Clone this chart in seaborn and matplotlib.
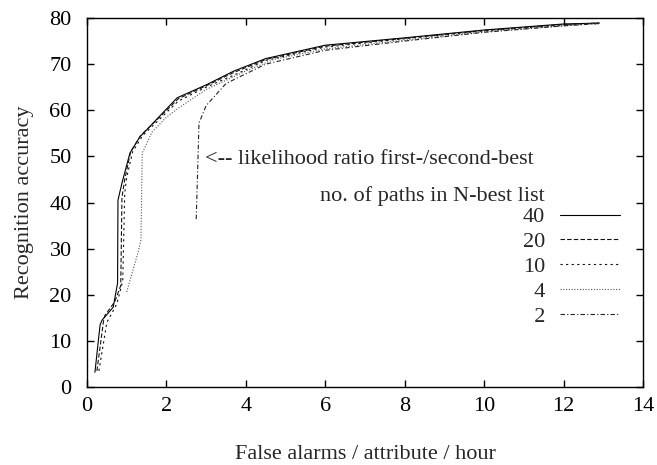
import numpy as np
import pandas as pd
import matplotlib
matplotlib.use("Agg")
import matplotlib.pyplot as plt
import seaborn as sns

# N-best list sizes and their curves (false alarms / attribute / hour vs accuracy)
n_paths = ["40", "20", "10", "4", "2"]

fa_40 = [0.2, 0.33, 0.38, 0.66, 0.77, 0.78, 0.88, 1.08, 1.33, 2.27, 3.0, 3.7, 4.5, 6.0, 8.0, 10.0, 12.0, 12.9]
acc_40 = [3.2, 13.5, 14.5, 17.3, 22.5, 40.5, 44.2, 50.7, 54.2, 62.7, 65.5, 68.5, 71.2, 74.1, 75.7, 77.4, 78.7, 78.9]

fa_20 = [0.25, 0.42, 0.45, 0.7, 0.85, 0.88, 0.95, 1.1, 1.35, 2.3, 3.0, 3.7, 4.5, 6.0, 8.0, 10.0, 12.0, 12.9]
acc_20 = [3.5, 14.5, 15.5, 18.5, 22.0, 41.0, 45.0, 51.0, 54.5, 62.5, 65.3, 68.2, 71.0, 73.9, 75.6, 77.3, 78.6, 78.9]

fa_10 = [0.3, 0.5, 0.75, 0.9, 0.95, 1.0, 1.15, 1.4, 2.3, 3.0, 3.8, 4.5, 6.0, 8.0, 10.0, 12.0, 12.9]
acc_10 = [3.5, 14.0, 18.0, 23.0, 42.0, 45.5, 51.0, 54.5, 62.0, 65.0, 68.0, 70.8, 73.7, 75.5, 77.2, 78.5, 78.9]

fa_4 = [1.0, 1.29, 1.36, 1.39, 1.64, 2.0, 2.34, 3.0, 4.0, 4.7, 6.0, 8.0, 10.0, 12.0, 12.9]
acc_4 = [20.6, 29.3, 31.9, 50.7, 55.3, 58.5, 60.7, 64.5, 68.5, 71.0, 73.3, 75.2, 77.0, 78.3, 78.8]

fa_2 = [2.75, 2.78, 2.82, 3.0, 3.5, 4.5, 6.0, 8.0, 10.0, 12.0, 12.9]
acc_2 = [36.4, 45.0, 57.2, 61.0, 65.8, 70.0, 73.0, 75.0, 76.9, 78.3, 78.8]

xs = [fa_40, fa_20, fa_10, fa_4, fa_2]
ys = [acc_40, acc_20, acc_10, acc_4, acc_2]

dash_styles = ["-", (0, (4, 2)), (0, (2, 3)), (0, (1, 1.5)), (0, (4, 2, 1, 2))]
line_colors = ["#000000", "#111111", "#111111", "#555555", "#222222"]

FS = 16

sns.set_style("ticks")
plt.rcParams["font.family"] = ["Liberation Serif", "DejaVu Serif"]
plt.rcParams["font.size"] = FS

fig = plt.figure(figsize=(6.57, 4.65), dpi=100)
ax = fig.add_axes([0.1324, 0.1677, 0.8463, 0.7936])

for i, n in enumerate(n_paths):
    df = pd.DataFrame({"fa": xs[i], "acc": ys[i]})
    sns.lineplot(data=df, x="fa", y="acc", ax=ax, sort=False, color=line_colors[i],
                 linewidth=0.8, linestyle=dash_styles[i], label=("  " + n if len(n) == 1 else n))

ax.set_xlim(0, 14)
ax.set_ylim(0, 80)
ax.set_xticks(np.arange(0, 15, 2))
ax.set_yticks(np.arange(0, 81, 10))
ax.tick_params(direction="in", length=5, width=1, top=True, right=True,
               labelsize=FS, colors="black")
ax.tick_params(axis="y", pad=11)
ax.tick_params(axis="x", pad=7)
for s in ax.spines.values():
    s.set_visible(True)
    s.set_color("black")
    s.set_linewidth(1)

ax.set_xlabel("False alarms / attribute / hour", fontsize=FS, labelpad=21)
ax.set_ylabel("Recognition accuracy", fontsize=FS, labelpad=11)

ax.text(2.97, 49.3, "<-- likelihood ratio first-/second-best", fontsize=FS,
        ha="left", va="center")
ax.text(0.824, 0.518, "no. of paths in N-best list", transform=ax.transAxes,
        fontsize=FS, ha="right", va="center")

leg = ax.legend(loc="upper right", bbox_to_anchor=(0.959, 0.488), frameon=False,
                markerfirst=False, handlelength=2.7, handletextpad=0.68,
                labelspacing=0.19, borderpad=0, borderaxespad=0, fontsize=FS)

fig.savefig("out.png", dpi=100)
